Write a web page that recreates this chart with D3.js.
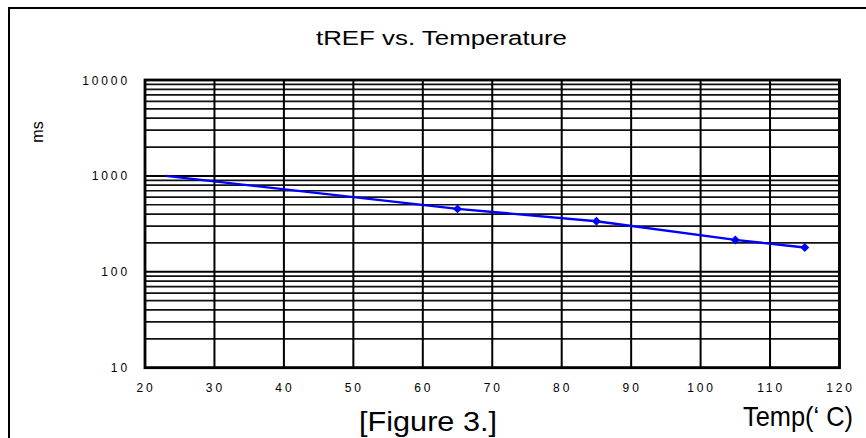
<!DOCTYPE html>
<html>
<head>
<meta charset="utf-8">
<script src="https://cdn.jsdelivr.net/npm/d3@7.9.0/dist/d3.min.js"></script>
<style>
  html, body { margin: 0; padding: 0; background: #fff; }
  svg { display: block; font-family: "Liberation Sans", Arial, sans-serif; }
  text { fill: #000; }
</style>
</head>
<body>
<svg id="chart" width="866" height="438"></svg>
<script>
// data
let temps = [23, 65, 85, 105, 115];
let tref = [1000, 453, 337, 215, 179];
let markerFrom = 1; // first point has no marker
let xTicks = [20, 30, 40, 50, 60, 70, 80, 90, 100, 110, 120];
let yTicks = [10, 100, 1000, 10000];

let svg = d3.select("#chart");

// outer frame (runs off the right and bottom of the picture)
svg.append("rect")
   .attr("x", 9).attr("y", 8)
   .attr("width", 900).attr("height", 480)
   .attr("fill", "none")
   .attr("stroke", "#000")
   .attr("stroke-width", 2);

let x = d3.scaleLinear().domain([20, 120]).range([145, 839.5]);
let y = d3.scaleLog().domain([10, 10000]).range([367.7, 80]);

// horizontal grid: 2..9 in every decade
let minor = [];
for (let d = 10; d < 10000; d *= 10) {
    for (let k = 2; k <= 9; k++) minor.push(d * k);
}

let grid = svg.append("g");
grid.selectAll(".hminor")
    .data(minor)
    .enter()
    .append("line")
    .attr("x1", x(20)).attr("x2", x(120))
    .attr("y1", d => y(d)).attr("y2", d => y(d))
    .attr("stroke", "#111")
    .attr("stroke-width", 1.7);

grid.selectAll(".hmajor")
    .data(yTicks)
    .enter()
    .append("line")
    .attr("x1", x(20)).attr("x2", x(120))
    .attr("y1", d => y(d)).attr("y2", d => y(d))
    .attr("stroke", "#000")
    .attr("stroke-width", 2);

grid.selectAll(".vline")
    .data(xTicks)
    .enter()
    .append("line")
    .attr("x1", d => x(d)).attr("x2", d => x(d))
    .attr("y1", y(10000)).attr("y2", y(10))
    .attr("stroke", "#000")
    .attr("stroke-width", 2);

// plot frame
svg.append("rect")
   .attr("x", x(20)).attr("y", y(10000))
   .attr("width", x(120) - x(20))
   .attr("height", y(10) - y(10000))
   .attr("fill", "none")
   .attr("stroke", "#000")
   .attr("stroke-width", 2.8);

// tick labels
svg.append("g").selectAll("text")
   .data(yTicks)
   .enter()
   .append("text")
   .attr("x", 130)
   .attr("y", d => y(d) + 4.5)
   .attr("text-anchor", "end")
   .attr("font-size", 12)
   .attr("letter-spacing", 2.9)
   .text(d => d);

svg.append("g").selectAll("text")
   .data(xTicks)
   .enter()
   .append("text")
   .attr("x", d => x(d) + 1)
   .attr("y", 391.5)
   .attr("text-anchor", "middle")
   .attr("font-size", 12)
   .attr("letter-spacing", 2.9)
   .text(d => d);

// series
let pts = temps.map((t, i) => ({ t: t, v: tref[i] }));
svg.append("path")
   .datum(pts)
   .attr("d", d3.line().x(d => x(d.t)).y(d => y(d.v)))
   .attr("fill", "none")
   .attr("stroke", "#0000ff")
   .attr("stroke-width", 2.4);

svg.append("g").selectAll("path")
   .data(pts.slice(markerFrom))
   .enter()
   .append("path")
   .attr("d", d3.symbol().type(d3.symbolSquare).size(40))
   .attr("transform", d => `translate(${x(d.t)},${y(d.v)}) rotate(45)`)
   .attr("fill", "#0000ff");

// texts
svg.append("text")
   .attr("x", 316).attr("y", 45)
   .attr("font-size", 20)
   .attr("textLength", 251)
   .attr("lengthAdjust", "spacingAndGlyphs")
   .text("tREF vs. Temperature");

svg.append("text")
   .attr("transform", "translate(43,132) rotate(-90)")
   .attr("text-anchor", "middle")
   .attr("font-size", 16)
   .text("ms");

svg.append("text")
   .attr("x", 743).attr("y", 426)
   .attr("font-size", 28)
   .attr("textLength", 110)
   .attr("lengthAdjust", "spacingAndGlyphs")
   .text("Temp(\u2018 C)");

svg.append("text")
   .attr("x", 359).attr("y", 431)
   .attr("font-size", 27)
   .attr("textLength", 138)
   .attr("lengthAdjust", "spacingAndGlyphs")
   .text("[Figure 3.]");
</script>
</body>
</html>
